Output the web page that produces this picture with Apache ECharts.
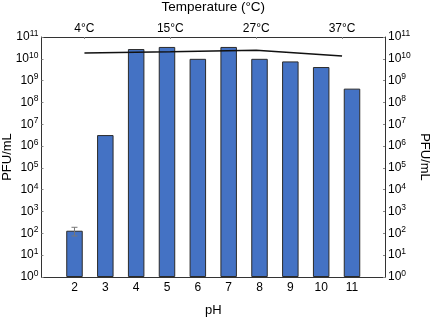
<!DOCTYPE html>
<html>
<head>
<meta charset="utf-8">
<script src="https://cdn.jsdelivr.net/npm/echarts@6/dist/echarts.min.js"></script>
<style>
  html, body { margin: 0; padding: 0; background: #fff; }
  #chart { width: 431px; height: 317px; }
</style>
</head>
<body>
<div id="chart"></div>
<script>
// pH series (bars)
const phValues = [2, 3, 4, 5, 6, 7, 8, 9, 10, 11]
const pfuByPh = [132, 3.2e6, 2.8e10, 3.5e10, 1.0e10, 3.5e10, 1.0e10, 7.6e9, 4.2e9, 4.3e8]
// error bar on pH 2
const errLow = [76]
const errHigh = [190]
const errPh = [2]

// temperature series (line, top axis)
const tempLabels = ['4°C', '15°C', '27°C', '37°C']
const pfuByTemp = [1.85e10, 2.1e10, 2.5e10, 1.35e10]

const font = 'Liberation Sans, Arial, sans-serif'

const chart = echarts.init(document.getElementById('chart'))

const supLabel = v => {
  const n = Math.round(Math.log10(v))
  return '10{s|' + n + '}'
}
const labelRich = {
  s: { fontSize: 8.5, verticalAlign: 'top', padding: [0, 0, 7, 0], color: '#000', fontFamily: font }
}

const logAxis = (pos) => ({
  type: 'log',
  logBase: 10,
  position: pos,
  min: 1,
  max: 1e11,
  interval: 1,
  name: 'PFU/mL',
  nameLocation: 'middle',
  nameMoveOverlap: false,
  nameGap: pos === 'left' ? 28 : 33,
  nameRotate: pos === 'left' ? 90 : -90,
  nameTextStyle: { fontSize: 13, color: '#000', fontFamily: font },
  axisLine: { show: true, lineStyle: { color: '#333', width: 1 } },
  axisTick: { show: true, inside: true, length: 2, lineStyle: { color: '#888' } },
  splitLine: { show: false },
  minorTick: { show: false },
  axisLabel: {
    formatter: supLabel,
    rich: labelRich,
    fontSize: 12,
    color: '#000',
    fontFamily: font,
    margin: 3
  }
})

const option = {
  animation: false,
  grid: { left: 41.5, right: 46, top: 37, bottom: 40, containLabel: false, outerBoundsMode: 'none' },
  xAxis: [
    {
      type: 'value',
      position: 'bottom',
      min: 0.93,
      max: 12.07,
      name: 'pH',
      nameLocation: 'middle',
      nameMoveOverlap: false,
      nameGap: 27,
      nameTextStyle: { fontSize: 13, color: '#000', fontFamily: font },
      axisLine: { show: true, lineStyle: { color: '#333', width: 1 } },
      axisTick: { show: false },
      splitLine: { show: false },
      axisLabel: {
        customValues: phValues,
        fontSize: 12,
        color: '#000',
        fontFamily: font,
        margin: 5
      }
    },
    {
      type: 'category',
      position: 'top',
      data: tempLabels,
      boundaryGap: true,
      name: 'Temperature (°C)',
      nameLocation: 'middle',
      nameMoveOverlap: false,
      nameGap: 23,
      nameTextStyle: { fontSize: 13.5, color: '#000', fontFamily: font },
      axisLine: { show: true, lineStyle: { color: '#333', width: 1 } },
      axisTick: { show: true, inside: true, alignWithLabel: true, length: 2, lineStyle: { color: '#888' } },
      splitLine: { show: false },
      axisLabel: { fontSize: 12, color: '#000', fontFamily: font, margin: 2 }
    }
  ],
  yAxis: [logAxis('left'), logAxis('right')],
  series: [
    {
      type: 'bar',
      xAxisIndex: 0,
      yAxisIndex: 0,
      barWidth: 16.5,
      data: phValues.map((p, i) => [p, pfuByPh[i]]),
      itemStyle: { color: '#4472C4', borderColor: '#2b2b2b', borderWidth: 1 }
    },
    {
      type: 'custom',
      xAxisIndex: 0,
      yAxisIndex: 0,
      data: errPh.map((p, i) => [p, errLow[i], errHigh[i]]),
      renderItem: (params, api) => {
        const lo = api.coord([api.value(0), api.value(1)])
        const hi = api.coord([api.value(0), api.value(2)])
        const x = lo[0]
        const w = 3
        const st = { stroke: '#777', lineWidth: 1 }
        return {
          type: 'group',
          children: [
            { type: 'line', shape: { x1: x, y1: lo[1], x2: x, y2: hi[1] }, style: st },
            { type: 'line', shape: { x1: x - w, y1: lo[1], x2: x + w, y2: lo[1] }, style: st },
            { type: 'line', shape: { x1: x - w, y1: hi[1], x2: x + w, y2: hi[1] }, style: st }
          ]
        }
      },
      z: 5
    },
    {
      type: 'line',
      xAxisIndex: 1,
      yAxisIndex: 0,
      data: pfuByTemp,
      showSymbol: false,
      symbol: 'none',
      lineStyle: { color: '#111', width: 1.5 },
      z: 6
    }
  ]
}

chart.setOption(option)
</script>
</body>
</html>
